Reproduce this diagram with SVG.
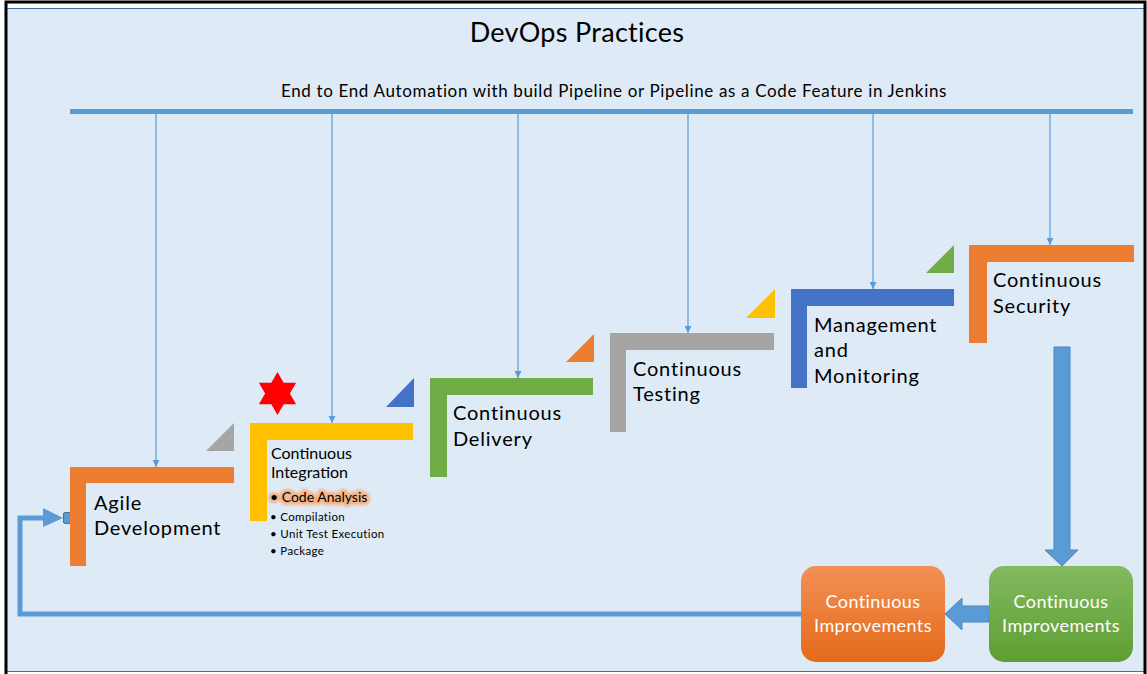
<svg xmlns="http://www.w3.org/2000/svg" width="1147" height="674" viewBox="0 0 1147 674">
<defs>
<style>
.t{font-family:Lato,"Liberation Sans",sans-serif;fill:#000}
.big{font-size:20px;letter-spacing:0.8px}
.mid{font-size:16px}
.sm{font-size:11.5px;letter-spacing:0.35px}
.w{font-family:Lato,"Liberation Sans",sans-serif;font-size:18px;letter-spacing:0.4px;fill:#fff;text-anchor:middle}
.thin{stroke:#5B9BD5;stroke-width:1.2;fill:none;marker-end:url(#ah)}
</style>
<marker id="ah" viewBox="0 0 10 10" refX="10" refY="5" markerWidth="7" markerHeight="7" markerUnits="userSpaceOnUse" orient="auto">
<path d="M0,0 L10,5 L0,10 z" fill="#5B9BD5"/>
</marker>
<linearGradient id="gGreen" x1="0" y1="0" x2="0" y2="1">
<stop offset="0" stop-color="#82BA60"/>
<stop offset="1" stop-color="#5E9E32"/>
</linearGradient>
<linearGradient id="gOrange" x1="0" y1="0" x2="0" y2="1">
<stop offset="0" stop-color="#F29057"/>
<stop offset="1" stop-color="#E46A17"/>
</linearGradient>
<filter id="glow" x="-20%" y="-50%" width="140%" height="200%">
<feGaussianBlur stdDeviation="1.8"/>
</filter>
</defs>
<rect x="0" y="0" width="1147" height="674" fill="#fff"/>
<rect x="6.5" y="8.5" width="1138" height="663" fill="#DEEAF6" stroke="#41719C" stroke-width="1"/>
<path d="M6,674 V2 H1145 V674" fill="none" stroke="#000" stroke-width="3"/>

<g id="title">
<text class="t" x="577" y="42" font-size="27" letter-spacing="0.3" text-anchor="middle">DevOps Practices</text>
<text class="t" x="614" y="97" font-size="17" letter-spacing="0.65" text-anchor="middle">End to End Automation with build Pipeline or Pipeline as a Code Feature in Jenkins</text>
</g>

<g id="connectors">
<line x1="70" y1="111.5" x2="1133" y2="111.5" stroke="#5B9BD5" stroke-width="5"/>
<line class="thin" x1="156" y1="114" x2="156" y2="467"/>
<line class="thin" x1="332" y1="114" x2="332" y2="423"/>
<line class="thin" x1="518" y1="114" x2="518" y2="378"/>
<line class="thin" x1="688" y1="114" x2="688" y2="333"/>
<line class="thin" x1="873" y1="114" x2="873" y2="289"/>
<line class="thin" x1="1050" y1="114" x2="1050" y2="245"/>
<path d="M1054,347 H1070 V550 H1078 L1062,566 L1045,550 H1054 Z" fill="#5B9BD5" stroke="#4A86BF" stroke-width="1"/>
<path d="M989,606 H962 V598 L945,614 L962,630 V622 H989 Z" fill="#5B9BD5" stroke="#4A86BF" stroke-width="1"/>
<path d="M801,614 H20 V518 H46" fill="none" stroke="#5B9BD5" stroke-width="5"/>
<path d="M43,508 L63,518 L43,527 Z" fill="#5B9BD5"/>
<rect x="63.5" y="512.5" width="7" height="11" rx="1.5" fill="#5B9BD5" stroke="#41719C" stroke-width="1"/>
</g>

<g id="agile">
<path d="M70,467 H234 V483 H86 V566 H70 Z" fill="#ED7D31"/>
<polygon points="206,451 234,451 234,423" fill="#A5A5A5"/>
<text class="t big" x="94" y="510">Agile</text>
<text class="t big" x="94" y="535">Development</text>
</g>

<g id="ci">
<path d="M250,423 H413 V440 H267 V521 H250 Z" fill="#FFC000"/>
<polygon points="386,407 414,407 414,378" fill="#4472C4"/>
<polygon points="277.5,372 283.7,382.8 296.1,382.75 289.9,393.5 296.1,404.25 283.7,404.2 277.5,415 271.3,404.2 258.9,404.25 265.1,393.5 258.9,382.75 271.3,382.8" fill="#FF0000"/>
<text class="t mid" x="271" y="459">Continuous</text>
<text class="t mid" x="271" y="478">Integration</text>
<text class="t" x="270" y="502" font-size="14" fill="#F4B183" stroke="#F4B183" stroke-width="6" stroke-linejoin="round" filter="url(#glow)">• Code Analysis</text>
<text class="t" x="270" y="502" font-size="14">• Code Analysis</text>
<text class="t sm" x="270" y="521">• Compilation</text>
<text class="t sm" x="270" y="538">• Unit Test Execution</text>
<text class="t sm" x="270" y="555">• Package</text>
</g>

<g id="cd">
<path d="M430,378 H593 V395 H447 V477 H430 Z" fill="#70AD47"/>
<polygon points="566,362 594,362 594,334" fill="#ED7D31"/>
<text class="t big" x="453" y="420">Continuous</text>
<text class="t big" x="453" y="446">Delivery</text>
</g>

<g id="ct">
<path d="M610,333 H774 V350 H626 V432 H610 Z" fill="#A5A5A5"/>
<polygon points="746,318 775,318 775,289" fill="#FFC000"/>
<text class="t big" x="633" y="376">Continuous</text>
<text class="t big" x="633" y="401">Testing</text>
</g>

<g id="mm">
<path d="M791,289 H954 V306 H807 V388 H791 Z" fill="#4472C4"/>
<polygon points="926,273 954,273 954,245" fill="#70AD47"/>
<text class="t big" x="814" y="332">Management</text>
<text class="t big" x="814" y="357">and</text>
<text class="t big" x="814" y="383">Monitoring</text>
</g>

<g id="cs">
<path d="M969,245 H1134 V262 H987 V343 H969 Z" fill="#ED7D31"/>
<text class="t big" x="993" y="287">Continuous</text>
<text class="t big" x="993" y="313">Security</text>
</g>

<g id="improve-green">
<rect x="989" y="566" width="144" height="96" rx="15" fill="url(#gGreen)"/>
<text class="w" x="1061" y="608">Continuous</text>
<text class="w" x="1061" y="632">Improvements</text>
</g>

<g id="improve-orange">
<rect x="801" y="566" width="144" height="96" rx="15" fill="url(#gOrange)"/>
<text class="w" x="873" y="608">Continuous</text>
<text class="w" x="873" y="632">Improvements</text>
</g>
</svg>
